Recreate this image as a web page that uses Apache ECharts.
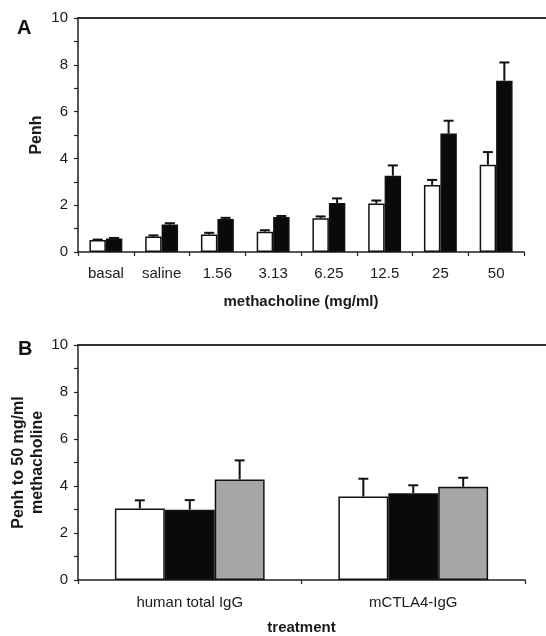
<!DOCTYPE html>
<html>
<head>
<meta charset="utf-8">
<script src="https://cdn.jsdelivr.net/npm/echarts@6/dist/echarts.min.js"></script>
<style>html,body{margin:0;padding:0;background:#fff}#c{width:546px;height:636px}</style>
</head>
<body>
<div id="c"></div>
<script>
// Panel A data
const catsA = ['basal', 'saline', '1.56', '3.13', '6.25', '12.5', '25', '50'];
const whiteA = [0.51, 0.66, 0.75, 0.87, 1.44, 2.07, 2.86, 3.73];
const whiteAErr = [0.53, 0.71, 0.82, 0.93, 1.52, 2.2, 3.08, 4.27];
const blackA = [0.58, 1.17, 1.41, 1.5, 2.09, 3.26, 5.06, 7.32];
const blackAErr = [0.6, 1.23, 1.46, 1.54, 2.29, 3.7, 5.61, 8.1];
// Panel B data
const catsB = ['human total IgG', 'mCTLA4-IgG'];
const whiteB = [3.04, 3.55];
const whiteBErr = [3.39, 4.31];
const blackB = [2.99, 3.69];
const blackBErr = [3.4, 4.03];
const grayB = [4.28, 3.97];
const grayBErr = [5.09, 4.35];
const yTicks = [0, 2, 4, 6, 8, 10];

const FONT = '"Liberation Sans", Arial, sans-serif';
const TXT = '#1a1a1a';
const gapA = 0.41, gapB = 0.33;

function errSeries(xi, yi, means, tops, idx, n, gap) {
  return {
    type: 'custom', xAxisIndex: xi, yAxisIndex: yi, z: 5,
    data: means.map((m, i) => [i, m, tops[i]]),
    encode: { x: 0, y: [1, 2] },
    renderItem: function (params, api) {
      const c = api.coord([api.value(0), api.value(1)]);
      const t = api.coord([api.value(0), api.value(2)]);
      const cw = api.size([1, 0])[0];
      const bw = cw * (1 - gap) / n;
      const x = c[0] + (idx - (n - 1) / 2) * bw;
      const hw = 5;
      const st = { stroke: '#111', lineWidth: 2 };
      return { type: 'group', children: [
        { type: 'line', shape: { x1: x, y1: c[1], x2: x, y2: t[1] }, style: st },
        { type: 'line', shape: { x1: x - hw, y1: t[1], x2: x + hw, y2: t[1] }, style: st }
      ]};
    }
  };
}

function yAxisDef(gi, name, gap) {
  return {
    type: 'value', gridIndex: gi, min: 0, max: 10, interval: 1,
    name: name, nameLocation: 'middle', nameGap: gap, nameMoveOverlap: false,
    nameTextStyle: { fontFamily: FONT, fontSize: 16, fontWeight: 'bold', color: TXT, lineHeight: 19 },
    axisLine: { show: true, lineStyle: { color: '#222', width: 1.5 } },
    axisTick: { show: true, length: 4, lineStyle: { color: '#222', width: 1.2 } },
    axisLabel: { margin: 10, fontFamily: FONT, fontSize: 15, color: TXT,
      formatter: v => (yTicks.indexOf(v) >= 0 ? String(v) : '') },
    splitLine: { show: false }
  };
}

function xAxisDef(gi, cats, name, margin, nameGap) {
  return {
    type: 'category', gridIndex: gi, data: cats,
    name: name, nameLocation: 'middle', nameGap: nameGap, nameMoveOverlap: false,
    nameTextStyle: { fontFamily: FONT, fontSize: 15, fontWeight: 'bold', color: TXT },
    axisLine: { show: true, lineStyle: { color: '#222', width: 1.5 } },
    axisTick: { show: true, length: 4, lineStyle: { color: '#222', width: 1.2 } },
    axisLabel: { margin: margin, fontFamily: FONT, fontSize: 15, color: TXT, interval: 0 },
    splitLine: { show: false }
  };
}

function topBorder(gi) {
  return { type: 'value', gridIndex: gi, position: 'top', min: 0, max: 1,
    axisLine: { show: true, onZero: false, lineStyle: { color: '#333', width: 2 } },
    axisTick: { show: false }, axisLabel: { show: false }, splitLine: { show: false } };
}
function hiddenY(gi) {
  return { type: 'value', gridIndex: gi, min: 0, max: 1, show: false };
}

const barStyle = (fill) => ({ color: fill, borderColor: '#111', borderWidth: 1.5 });

const option = {
  animation: false,
  backgroundColor: '#fff',
  title: [
    { text: 'A', left: 12, top: 13, textStyle: { fontFamily: FONT, fontSize: 20, fontWeight: 'bold', color: '#111' } },
    { text: 'B', left: 13, top: 334, textStyle: { fontFamily: FONT, fontSize: 20, fontWeight: 'bold', color: '#111' } }
  ],
  grid: [
    { left: 78, top: 18, width: 446, height: 234, outerBoundsMode: 'none', containLabel: false },
    { left: 78, top: 345, width: 447, height: 235, outerBoundsMode: 'none', containLabel: false },
    { left: 78, top: 18, right: 0, height: 10, outerBoundsMode: 'none' },
    { left: 78, top: 345, right: 0, height: 10, outerBoundsMode: 'none' }
  ],
  xAxis: [
    xAxisDef(0, catsA, 'methacholine (mg/ml)', 14, 42),
    xAxisDef(1, catsB, 'treatment', 15, 40),
    topBorder(2),
    topBorder(3)
  ],
  yAxis: [
    yAxisDef(0, 'Penh', 32),
    yAxisDef(1, 'Penh to 50 mg/ml\nmethacholine', 31),
    hiddenY(2),
    hiddenY(3)
  ],
  series: [
    { type: 'bar', xAxisIndex: 0, yAxisIndex: 0, data: whiteA, barGap: '0%', barCategoryGap: (gapA * 100) + '%', itemStyle: barStyle('#ffffff') },
    { type: 'bar', xAxisIndex: 0, yAxisIndex: 0, data: blackA, barGap: '0%', barCategoryGap: (gapA * 100) + '%', itemStyle: barStyle('#0a0a0a') },
    errSeries(0, 0, whiteA, whiteAErr, 0, 2, gapA),
    errSeries(0, 0, blackA, blackAErr, 1, 2, gapA),
    { type: 'bar', xAxisIndex: 1, yAxisIndex: 1, data: whiteB, barGap: '0%', barCategoryGap: (gapB * 100) + '%', itemStyle: barStyle('#ffffff') },
    { type: 'bar', xAxisIndex: 1, yAxisIndex: 1, data: blackB, barGap: '0%', barCategoryGap: (gapB * 100) + '%', itemStyle: barStyle('#0a0a0a') },
    { type: 'bar', xAxisIndex: 1, yAxisIndex: 1, data: grayB, barGap: '0%', barCategoryGap: (gapB * 100) + '%', itemStyle: barStyle('#a6a6a6') },
    errSeries(1, 1, whiteB, whiteBErr, 0, 3, gapB),
    errSeries(1, 1, blackB, blackBErr, 1, 3, gapB),
    errSeries(1, 1, grayB, grayBErr, 2, 3, gapB)
  ]
};

const chart = echarts.init(document.getElementById('c'), null, { renderer: 'canvas' });
chart.setOption(option);
</script>
</body>
</html>
